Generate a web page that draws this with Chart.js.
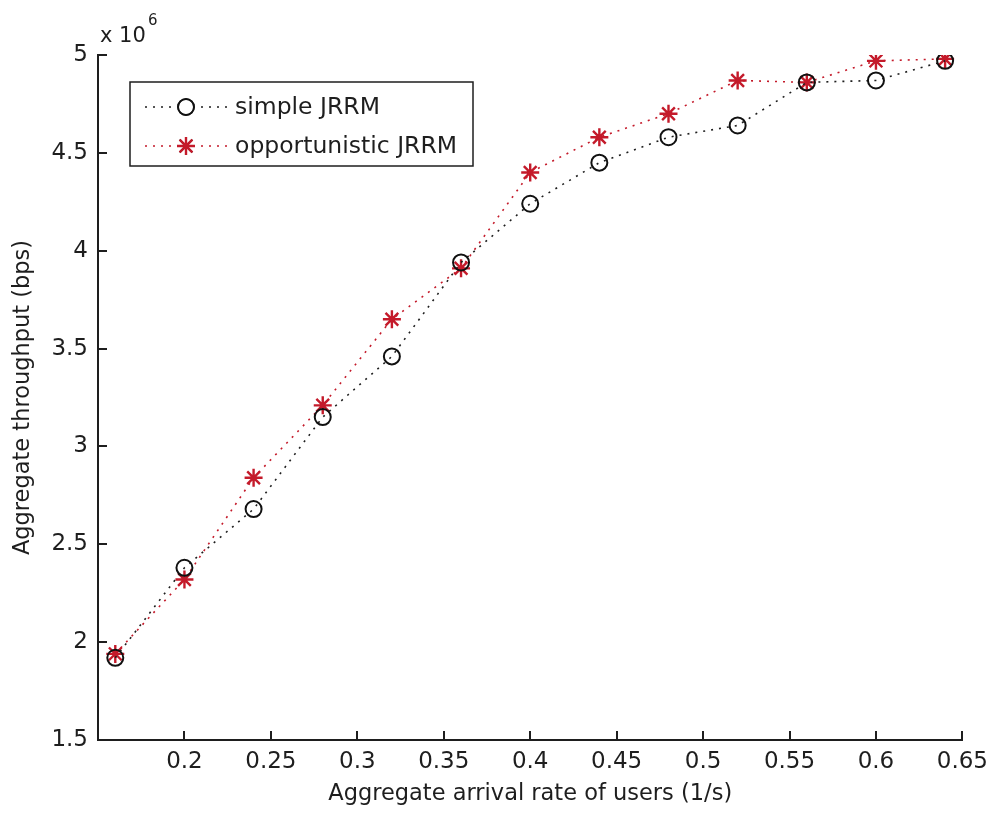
<!DOCTYPE html>
<html>
<head>
<meta charset="utf-8">
<script src="https://cdn.jsdelivr.net/npm/chart.js@4.4.0/dist/chart.umd.min.js"></script>
<style>
  html, body { margin: 0; padding: 0; background: #fff; }
  #wrap { position: relative; width: 996px; height: 815px; }
</style>
</head>
<body>
<div id="wrap"><canvas id="thr" width="996" height="815"></canvas></div>
<script>
// arrival rate of users (1/s)
var arrivalRate = [0.16, 0.20, 0.24, 0.28, 0.32, 0.36, 0.40, 0.44, 0.48, 0.52, 0.56, 0.60, 0.64];
// aggregate throughput, in units of 10^6 bps
var simpleJRRM = [1.92, 2.38, 2.68, 3.15, 3.46, 3.94, 4.24, 4.45, 4.58, 4.64, 4.86, 4.87, 4.97];
var opportunisticJRRM = [1.94, 2.32, 2.84, 3.21, 3.65, 3.91, 4.40, 4.58, 4.70, 4.87, 4.86, 4.97, 4.98];
var seriesNames = ['simple JRRM', 'opportunistic JRRM'];
var xTicks = [0.2, 0.25, 0.3, 0.35, 0.4, 0.45, 0.5, 0.55, 0.6, 0.65];
var yTicks = [1.5, 2, 2.5, 3, 3.5, 4, 4.5, 5];

var FONT = '"DejaVu Sans", Verdana, sans-serif';
var INK = '#1e1e1e';
var RED = '#c41a2a';

function toPoints(xs, ys) {
    var pts = [];
    for (var i in xs) pts.push({x: xs[i], y: ys[i]});
    return pts;
}

// inward ticks, exponent label and boxed legend, matlab style
var matlabBits = {
    id: 'matlabBits',
    afterDraw: function(chart) {
        var ctx = chart.ctx;
        var xs = chart.scales.x, ys = chart.scales.y;
        var area = chart.chartArea;
        ctx.save();
        ctx.strokeStyle = INK;
        ctx.lineWidth = 2;
        ctx.beginPath();
        xTicks.forEach(function(v) {
            var px = Math.round(xs.getPixelForValue(v));
            ctx.moveTo(px, area.bottom);
            ctx.lineTo(px, area.bottom - 9);
        });
        yTicks.forEach(function(v) {
            var py = Math.round(ys.getPixelForValue(v));
            ctx.moveTo(area.left, py);
            ctx.lineTo(area.left + 9, py);
        });
        ctx.stroke();

        // x 10^6
        ctx.fillStyle = INK;
        ctx.font = '21px ' + FONT;
        ctx.textBaseline = 'alphabetic';
        ctx.textAlign = 'left';
        ctx.fillText('x 10', 100, 42);
        ctx.font = '15px ' + FONT;
        ctx.fillText('6', 148, 25);

        // legend box
        var lx = 130, ly = 82, lw = 343, lh = 84;
        ctx.fillStyle = '#fff';
        ctx.fillRect(lx, ly, lw, lh);
        ctx.lineWidth = 1.5;
        ctx.strokeStyle = INK;
        ctx.strokeRect(lx, ly, lw, lh);
        var rows = [107, 146];
        chart.data.datasets.forEach(function(ds, i) {
            var y = rows[i];
            ctx.save();
            ctx.strokeStyle = ds.borderColor;
            ctx.lineWidth = 1.6;
            ctx.setLineDash(ds.borderDash);
            ctx.beginPath();
            ctx.moveTo(145, y);
            ctx.lineTo(228, y);
            ctx.stroke();
            ctx.restore();
            ctx.save();
            ctx.fillStyle = '#fff';
            ctx.fillRect(177, y - 10, 19, 20);
            ctx.restore();
            Chart.helpers.drawPoint(ctx, {
                pointStyle: ds.pointStyle,
                radius: ds.pointRadius,
                borderWidth: ds.pointBorderWidth
            }, 186, y);
            ctx.strokeStyle = ds.pointBorderColor;
            ctx.lineWidth = ds.pointBorderWidth;
            ctx.stroke();
            ctx.fillStyle = INK;
            ctx.font = '23.5px ' + FONT;
            ctx.textBaseline = 'middle';
            ctx.fillText(ds.label, 235, y + 1);
        });
        ctx.restore();
    }
};

var ctx = document.getElementById('thr');
var chart = new Chart(ctx, {
    type: 'scatter',
    data: {
        datasets: [{
            label: seriesNames[0],
            data: toPoints(arrivalRate, simpleJRRM),
            showLine: true,
            borderColor: INK,
            borderWidth: 1.6,
            borderDash: [2, 6],
            pointStyle: 'circle',
            pointRadius: 8,
            pointBorderWidth: 2,
            pointBorderColor: '#111',
            pointBackgroundColor: 'rgba(0,0,0,0)'
        }, {
            label: seriesNames[1],
            data: toPoints(arrivalRate, opportunisticJRRM),
            showLine: true,
            borderColor: RED,
            borderWidth: 1.6,
            borderDash: [2, 6],
            pointStyle: 'star',
            pointRadius: 9,
            pointBorderWidth: 2.4,
            pointBorderColor: RED,
            pointBackgroundColor: RED
        }]
    },
    options: {
        responsive: false,
        animation: false,
        devicePixelRatio: 1,
        layout: { padding: { top: 55, right: 30, left: 0, bottom: 0 } },
        plugins: {
            legend: { display: false },
            tooltip: { enabled: false }
        },
        scales: {
            x: {
                type: 'linear',
                min: 0.15,
                max: 0.65,
                afterBuildTicks: function(s) { s.ticks = xTicks.map(function(v) { return {value: v}; }); },
                afterFit: function(s) { s.height = 75; },
                grid: { display: false, drawTicks: false },
                border: { display: true, color: INK, width: 2 },
                ticks: {
                    color: INK,
                    font: { family: FONT, size: 23 },
                    padding: 8,
                    maxRotation: 0,
                    callback: function(v) { return String(Math.round(v * 100) / 100); }
                },
                title: {
                    display: true,
                    text: 'Aggregate arrival rate of users (1/s)',
                    color: INK,
                    font: { family: FONT, size: 22.5 },
                    padding: { top: 0, bottom: 7 }
                }
            },
            y: {
                type: 'linear',
                min: 1.5,
                max: 5,
                afterBuildTicks: function(s) { s.ticks = yTicks.map(function(v) { return {value: v}; }); },
                afterFit: function(s) { s.width = 98; },
                grid: { display: false, drawTicks: false },
                border: { display: true, color: INK, width: 2 },
                ticks: {
                    color: INK,
                    font: { family: FONT, size: 23 },
                    padding: 10,
                    callback: function(v) { return String(v); }
                },
                title: {
                    display: true,
                    text: 'Aggregate throughput (bps)',
                    color: INK,
                    font: { family: FONT, size: 22.5 },
                    padding: { top: 10, bottom: 0 }
                }
            }
        }
    },
    plugins: [matlabBits]
});
</script>
</body>
</html>
